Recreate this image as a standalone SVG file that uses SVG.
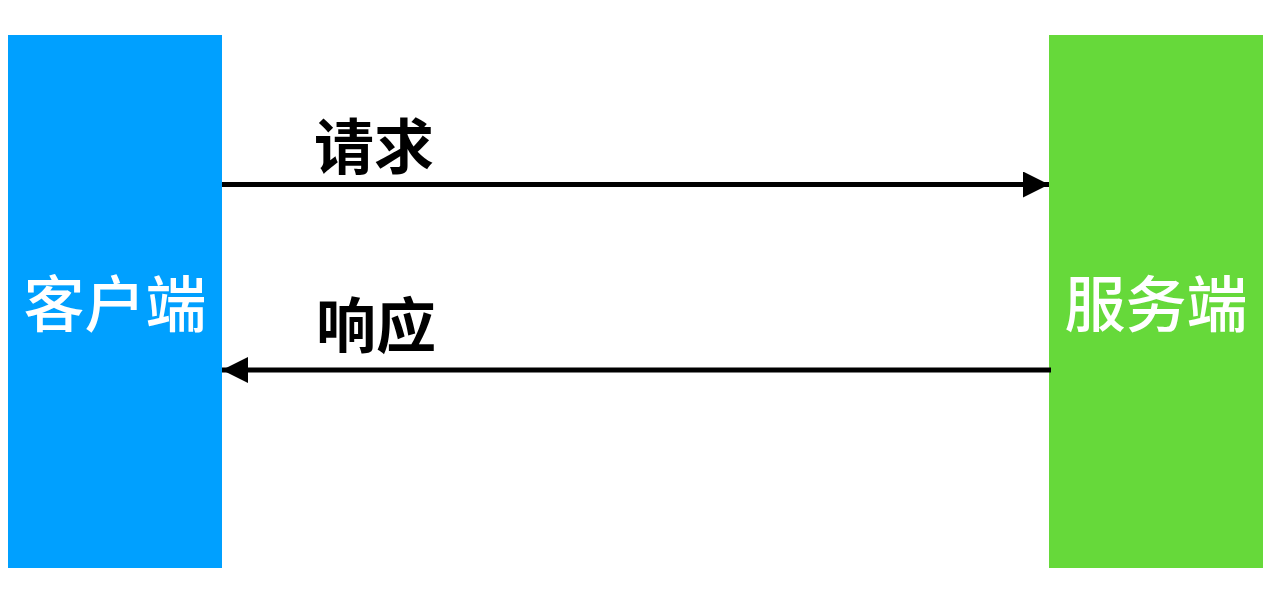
<svg xmlns="http://www.w3.org/2000/svg" width="1288" height="606" viewBox="0 0 1288 606">
<style>
.node-text{font-family:"Noto Sans CJK SC","Noto Sans",sans-serif;font-size:61px;font-weight:500;fill:#ffffff;text-anchor:middle;dominant-baseline:central}
.label{font-family:"Noto Sans CJK SC","Noto Sans",sans-serif;font-size:60px;font-weight:bold;fill:#000000;dominant-baseline:central}
.conn{stroke:#000000;stroke-width:5;fill:none}
</style>
<defs>
<marker id="arrow" viewBox="0 0 10 10" refX="10" refY="5" markerWidth="5.2" markerHeight="5.2" markerUnits="strokeWidth" orient="auto">
<path d="M0,0 L10,5 L0,10 z" fill="#000000"/>
</marker>
</defs>
<rect width="1288" height="606" fill="#ffffff"/>
<g id="client">
<rect x="8" y="35" width="214" height="533" fill="#00A0FF"/>
<text class="node-text" x="115" y="300">客户端</text>
</g>
<g id="server">
<rect x="1049" y="35" width="214" height="533" fill="#66D93A"/>
<text class="node-text" x="1156" y="300">服务端</text>
</g>
<g id="connectors">
<line class="conn" x1="222" y1="184.5" x2="1049" y2="184.5" marker-end="url(#arrow)"/>
<line class="conn" x1="1051" y1="370" x2="222" y2="370" marker-end="url(#arrow)"/>
<text class="label" x="314" y="142">请求</text>
<text class="label" x="316" y="321">响应</text>
</g>
</svg>
